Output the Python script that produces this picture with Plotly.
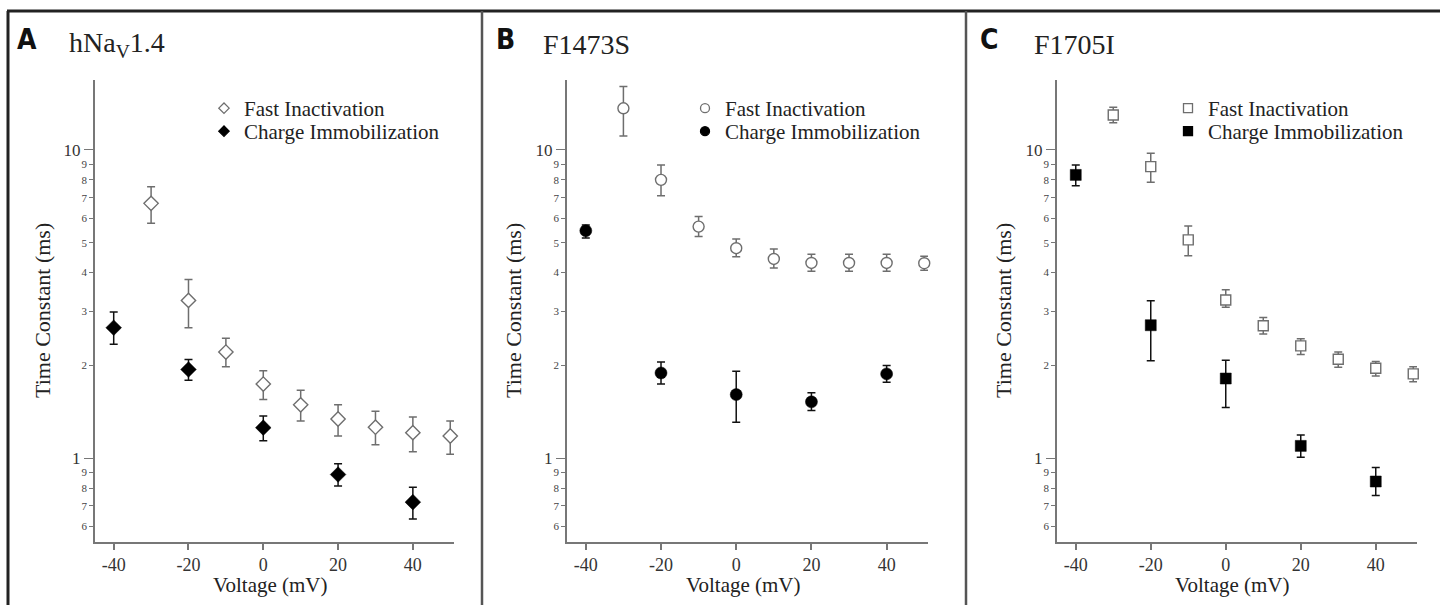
import plotly.graph_objects as go

# voltages (mV)
volts_fast = [-30, -20, -10, 0, 10, 20, 30, 40, 50]
volts_charge = [-40, -20, 0, 20, 40]

# A  hNaV1.4
tau_a_fast = [6.71, 3.25, 2.21, 1.74, 1.49, 1.34, 1.26, 1.21, 1.18]
hi_a_fast = [7.6, 3.8, 2.45, 1.92, 1.66, 1.49, 1.42, 1.36, 1.32]
lo_a_fast = [5.78, 2.65, 1.98, 1.55, 1.32, 1.18, 1.105, 1.05, 1.03]
tau_a_charge = [2.65, 1.94, 1.256, 0.885, 0.72]
hi_a_charge = [2.98, 2.09, 1.37, 0.959, 0.805]
lo_a_charge = [2.34, 1.79, 1.14, 0.813, 0.635]

# B  F1473S
tau_b_fast = [13.65, 8.0, 5.64, 4.80, 4.43, 4.30, 4.30, 4.30, 4.29]
hi_b_fast = [16.06, 8.94, 6.08, 5.14, 4.77, 4.59, 4.59, 4.59, 4.52]
lo_b_fast = [11.1, 7.1, 5.24, 4.50, 4.14, 4.04, 4.04, 4.04, 4.07]
tau_b_charge = [5.47, 1.89, 1.608, 1.523, 1.877]
hi_b_charge = [5.71, 2.05, 1.915, 1.63, 1.997]
lo_b_charge = [5.18, 1.742, 1.308, 1.427, 1.764]

# C  F1705I
tau_c_fast = [12.99, 8.83, 5.11, 3.26, 2.69, 2.314, 2.095, 1.958, 1.877]
hi_c_fast = [13.75, 9.75, 5.67, 3.52, 2.86, 2.44, 2.21, 2.06, 1.98]
lo_c_fast = [12.26, 7.86, 4.54, 3.09, 2.53, 2.17, 1.974, 1.849, 1.77]
tau_c_charge = [8.30, 2.70, 1.813, 1.096, 0.84]
hi_c_charge = [8.94, 3.24, 2.08, 1.19, 0.932]
lo_c_charge = [7.66, 2.07, 1.46, 1.007, 0.756]

letters = ["A", "B", "C"]
titles = ["hNa<sub>V</sub>1.4", "F1473S", "F1705I"]
symbols = ["diamond", "circle", "square"]
x_ticks = [-40, -20, 0, 20, 40]
x_ticktext = ["-40", "-20", "0", "20", "40"]
minor_vals = [0.6, 0.7, 0.8, 0.9, 2, 3, 4, 5, 6, 7, 8, 9]
minor_text = ["6", "7", "8", "9", "2", "3", "4", "5", "6", "7", "8", "9"]
major_vals = [1, 10]
major_text = ["1", "10"]

W, H = 1440, 605
SERIF = "Liberation Serif, Times New Roman, serif"
GREY = "#6e6e6e"
AXC = "#777777"

panels = [
    (tau_a_fast, hi_a_fast, lo_a_fast, tau_a_charge, hi_a_charge, lo_a_charge),
    (tau_b_fast, hi_b_fast, lo_b_fast, tau_b_charge, hi_b_charge, lo_b_charge),
    (tau_c_fast, hi_c_fast, lo_c_fast, tau_c_charge, hi_c_charge, lo_c_charge),
]
# pixel layout of each panel: axis left, axis right, letter x, title x, legend text x, y-title x
px_layout = [
    (95, 454, 27, 67, 244, 42),
    (567, 928, 506, 541, 725, 513),
    (1057, 1417, 989, 1032, 1208, 1003),
]
leg_sizes = [8, 9, 9]
y_range = [-0.272, 1.227]
ydom = [63 / H, 525 / H]

fig = go.Figure()
layout = dict(annotations=[], shapes=[])

for i, (tf, hf, lf, tc, hc, lc) in enumerate(panels):
    n = i + 1
    xa = "x" if n == 1 else f"x{n}"
    ya = "y" if n == 1 else f"y{n}"
    yo = f"y{n + 3}"
    sym = symbols[i]
    x0, x1, lx, tx, legx, ytx = px_layout[i]

    fig.add_trace(go.Scatter(
        x=volts_fast, y=tf, mode="markers", xaxis=xa, yaxis=ya, showlegend=False,
        cliponaxis=False,
        marker=dict(symbol=sym, size=11 if sym != "square" else 10, color="white",
                    line=dict(color=GREY, width=1.4)),
        error_y=dict(type="data", symmetric=False,
                     array=[h - t for h, t in zip(hf, tf)],
                     arrayminus=[t - l for t, l in zip(tf, lf)],
                     color=GREY, thickness=1.5, width=4),
    ))
    fig.add_trace(go.Scatter(
        x=volts_charge, y=tc, mode="markers", xaxis=xa, yaxis=ya, showlegend=False,
        cliponaxis=False,
        marker=dict(symbol=sym, size=12 if sym != "square" else 11, color="black",
                    line=dict(color="black", width=0.5)),
        error_y=dict(type="data", symmetric=False,
                     array=[h - t for h, t in zip(hc, tc)],
                     arrayminus=[t - l for t, l in zip(tc, lc)],
                     color="#111111", thickness=1.5, width=4),
    ))
    # legend entries (one legend per row so spacing matches)
    for k, (name, col, lcol) in enumerate([("Fast Inactivation", "white", GREY),
                                           ("Charge Immobilization", "black", "black")]):
        lg_id = 2 * i + k + 1
        lg = "legend" if lg_id == 1 else f"legend{lg_id}"
        fig.add_trace(go.Scatter(
            x=[None], y=[None], mode="markers", name=name, xaxis=xa, yaxis=yo,
            legend=lg, showlegend=True,
            marker=dict(symbol=sym, size=leg_sizes[i], color=col, line=dict(color=lcol, width=1.3)),
        ))
        layout[lg if lg_id > 1 else "legend"] = dict(
            x=(legx - 40) / W, xanchor="left",
            y=1 - (108.5 + 23 * k) / H, yanchor="middle",
            bgcolor="rgba(0,0,0,0)", borderwidth=0,
            font=dict(family=SERIF, size=21, color="#222"),
        )

    dom = [x0 / W, x1 / W]
    layout["xaxis" if n == 1 else f"xaxis{n}"] = dict(
        domain=dom, anchor=ya, range=[-45, 51], showgrid=False, zeroline=False,
        showline=True, linecolor=AXC, linewidth=1.5,
        tickvals=x_ticks, ticktext=x_ticktext, ticks="outside", ticklen=6, tickwidth=1.5,
        tickcolor=AXC, tickfont=dict(family=SERIF, size=18, color="#333"),
    )
    layout["yaxis" if n == 1 else f"yaxis{n}"] = dict(
        domain=ydom, anchor=xa, type="log", range=y_range, showgrid=False, zeroline=False,
        showline=True, linecolor=AXC, linewidth=1.5,
        tickvals=minor_vals, ticktext=minor_text, ticks="outside", ticklen=4,
        tickwidth=1.2, tickcolor=AXC, tickfont=dict(family=SERIF, size=11, color="#444"),
    )
    layout[f"yaxis{n + 3}"] = dict(
        domain=ydom, anchor=xa, overlaying=ya, side="left", type="log", range=y_range,
        showgrid=False, zeroline=False, showline=False,
        tickvals=major_vals, ticktext=major_text, ticks="outside", ticklen=10,
        tickwidth=1.2, tickcolor=AXC, tickfont=dict(family=SERIF, size=17, color="#333"),
    )

    ann = layout["annotations"]
    ann.append(dict(text=letters[i], x=lx / W, y=1 - 39 / H, xref="paper", yref="paper",
                    xanchor="center", yanchor="middle", showarrow=False,
                    font=dict(family="DejaVu Sans Condensed, Liberation Sans Narrow, sans-serif",
                              size=28, color="#111", weight="bold")))
    ann.append(dict(text=titles[i], x=tx / W, y=1 - 44 / H, xref="paper", yref="paper",
                    xanchor="left", yanchor="middle", showarrow=False,
                    font=dict(family=SERIF, size=28, color="#222")))
    ann.append(dict(text="Time Constant (ms)", textangle=-90, x=ytx / W, y=1 - 311 / H,
                    xref="paper", yref="paper", xanchor="center", yanchor="middle",
                    showarrow=False, font=dict(family=SERIF, size=22, color="#222")))
    ann.append(dict(text="Voltage (mV)", x=(x0 + x1) / 2 / W - 0.003, y=1 - 585 / H,
                    xref="paper", yref="paper", xanchor="center", yanchor="middle",
                    showarrow=False, font=dict(family=SERIF, size=21, color="#222")))

# panel frame lines
line_top = 1 - 11 / H
layout["shapes"] = [
    dict(type="line", xref="paper", yref="paper", x0=7 / W, x1=1, y0=line_top, y1=line_top,
         line=dict(color="#222", width=3)),
    dict(type="line", xref="paper", yref="paper", x0=8 / W, x1=8 / W, y0=0, y1=line_top,
         line=dict(color="#222", width=3)),
    dict(type="line", xref="paper", yref="paper", x0=482 / W, x1=482 / W, y0=0, y1=line_top,
         line=dict(color="#555", width=2.5)),
    dict(type="line", xref="paper", yref="paper", x0=966 / W, x1=966 / W, y0=0, y1=line_top,
         line=dict(color="#555", width=2.5)),
]

fig.update_layout(
    width=W, height=H, margin=dict(l=0, r=0, t=0, b=0),
    paper_bgcolor="white", plot_bgcolor="white",
    **layout,
)

fig.write_html("out.html", config={"displayModeBar": False},
               post_script="document.body.style.margin='0';")
